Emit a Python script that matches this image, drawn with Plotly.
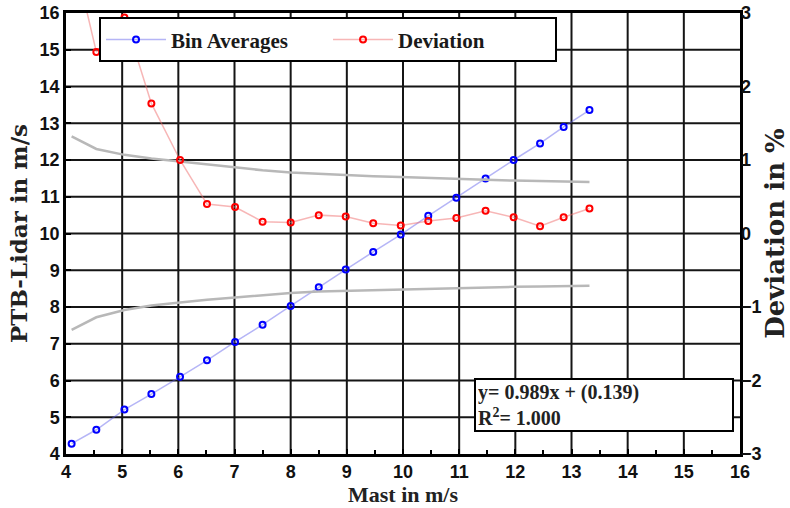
import plotly.graph_objects as go

# Bin data (mast wind speed bins)
mast = [4.10, 4.54, 5.04, 5.52, 6.03, 6.51, 7.01, 7.50, 8.00, 8.50,
        8.98, 9.47, 9.96, 10.45, 10.95, 11.47, 11.97, 12.44, 12.86, 13.32]
lidar = [4.28, 4.66, 5.21, 5.63, 6.10, 6.55, 7.05, 7.52, 8.03, 8.54,
         9.02, 9.50, 9.97, 10.48, 10.97, 11.50, 12.00, 12.45, 12.90, 13.36]
deviation = [3.90, 2.47, 2.94, 1.77, 1.00, 0.40, 0.36, 0.16, 0.15, 0.25,
             0.23, 0.14, 0.11, 0.17, 0.21, 0.31, 0.22, 0.10, 0.22, 0.34]
upper_bound = [1.32, 1.15, 1.07, 1.02, 0.98, 0.94, 0.90, 0.86, 0.83, 0.81,
               0.79, 0.78, 0.77, 0.755, 0.74, 0.73, 0.72, 0.71, 0.705, 0.70]
lower_bound = [-1.31, -1.14, -1.04, -0.98, -0.94, -0.90, -0.87, -0.84, -0.81, -0.79,
               -0.78, -0.77, -0.76, -0.75, -0.74, -0.73, -0.725, -0.72, -0.715, -0.71]

x_ticks = list(range(4, 17))
y_ticks = list(range(4, 17))
y2_ticks = [-3, -2, -1, 0, 1, 2, 3]

fit_text = "y= 0.989x + (0.139)<br>R<sup>2</sup>= 1.000"

SERIF = "Liberation Serif"
SANS = "Liberation Sans"
GRID = "#151515"

fig = go.Figure()

fig.add_trace(go.Scatter(
    x=mast, y=upper_bound, yaxis="y2", mode="lines",
    line=dict(color="#b8b8b8", width=2.5), showlegend=False, hoverinfo="skip"))
fig.add_trace(go.Scatter(
    x=mast, y=lower_bound, yaxis="y2", mode="lines",
    line=dict(color="#b8b8b8", width=2.5), showlegend=False, hoverinfo="skip"))

fig.add_trace(go.Scatter(
    x=mast, y=lidar, name="Bin Averages", mode="lines+markers",
    line=dict(color="rgba(90,90,235,0.45)", width=1.5),
    marker=dict(symbol="circle-open", color="#0000ff", size=6, line=dict(width=2, color="#0000ff"))))
fig.add_trace(go.Scatter(
    x=mast, y=deviation, name="Deviation", yaxis="y2", mode="lines+markers",
    line=dict(color="rgba(240,110,110,0.5)", width=1.5),
    marker=dict(symbol="circle-open", color="#ff0000", size=6, line=dict(width=2, color="#ff0000"))))

# grid lines at the tick positions (drawn below the data)
for xv in x_ticks[1:-1]:
    fig.add_shape(type="line", xref="x", yref="paper", x0=xv, x1=xv, y0=0, y1=1,
                  line=dict(color=GRID, width=2), layer="below")
for yv in y_ticks[1:-1]:
    fig.add_shape(type="line", xref="paper", yref="y", x0=0, x1=1, y0=yv, y1=yv,
                  line=dict(color=GRID, width=2), layer="below")

fig.add_annotation(
    x=0.605, y=0.05, xref="paper", yref="paper", xanchor="left", yanchor="bottom",
    text=fit_text, showarrow=False, align="left", valign="middle",
    width=252, height=46, borderpad=2,
    bordercolor="black", borderwidth=2, bgcolor="white",
    font=dict(family=SERIF, size=20, color="#222", weight="bold"))

tickfont = dict(family=SANS, size=18, color="#111", weight="bold")

fig.update_layout(
    width=790, height=508,
    margin=dict(l=66, r=50, t=13, b=54, autoexpand=False),
    paper_bgcolor="white", plot_bgcolor="white",
    showlegend=True,
    legend=dict(
        orientation="h", x=0.049, y=0.99, xanchor="left", yanchor="top",
        bordercolor="black", borderwidth=2, bgcolor="white",
        itemwidth=60, entrywidth=152,
        font=dict(family=SERIF, size=21, color="#1a1a1a", weight="bold")),
    xaxis=dict(
        range=[x_ticks[0], x_ticks[-1]], tickvals=x_ticks,
        showgrid=False,
        showline=True, linecolor="black", linewidth=2.5, mirror=True,
        ticks="inside", ticklen=5, tickwidth=2, tickcolor="black",
        minor=dict(tick0=4, dtick=0.5, ticks="inside", ticklen=4, tickwidth=2, tickcolor="black", showgrid=False),
        zeroline=False, tickfont=tickfont, automargin=False,
        title=dict(text="Mast in m/s", standoff=6,
                   font=dict(family=SERIF, size=22, color="#222", weight="bold"))),
    yaxis=dict(
        range=[y_ticks[0], y_ticks[-1]], tickvals=y_ticks,
        showgrid=False,
        showline=True, linecolor="black", linewidth=2.5, mirror=True,
        ticks="inside", ticklen=5, tickwidth=2, tickcolor="black",
        zeroline=False, tickfont=tickfont, automargin=False,
        title=dict(text="PTB-Lidar in m/s", standoff=6,
                   font=dict(family="DejaVu Serif", size=23, color="#222", weight="bold"))),
    yaxis2=dict(
        range=[y2_ticks[0], y2_ticks[-1]], tickvals=y2_ticks, overlaying="y", side="right",
        showgrid=False, showline=False, zeroline=False,
        ticks="", tickfont=tickfont, automargin=False,
        title=dict(text="Deviation in %", standoff=8,
                   font=dict(family="DejaVu Serif", size=26, color="#222", weight="bold"))),
)

fig.write_html("out.html")
